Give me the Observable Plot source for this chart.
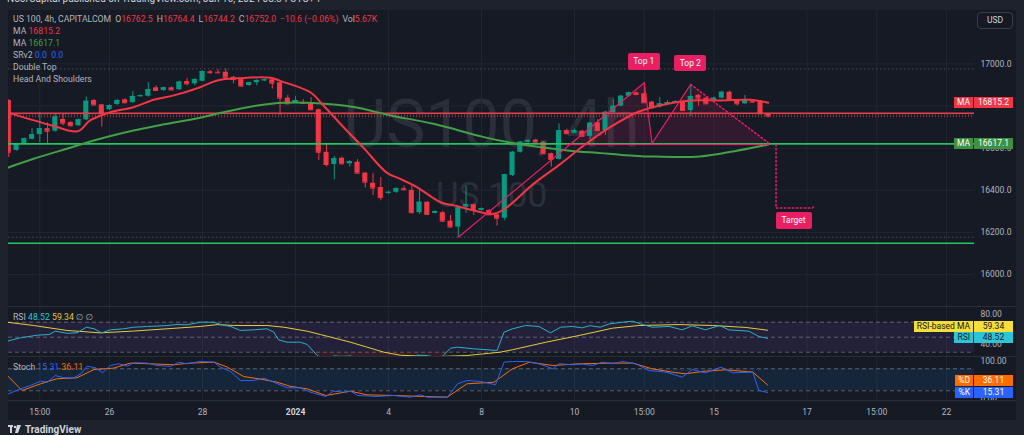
<!DOCTYPE html>
<html><head><meta charset="utf-8">
<script src="https://cdn.jsdelivr.net/npm/d3@7"></script>
<script src="https://cdn.jsdelivr.net/npm/@observablehq/plot@0.6"></script>
<style>
html,body{margin:0;padding:0;}
body{background:#1e222d;width:1024px;height:435px;overflow:hidden;position:relative;font-family:Roboto,"DejaVu Sans",sans-serif;color:#b2b5be;}
#pane{position:absolute;left:8px;top:10px;width:1008px;height:410px;background:#161a25;overflow:hidden;}
#pane svg{position:absolute;left:0;}
.sep{position:absolute;left:0;width:1008px;height:1px;background:#2a2e39;}
.lg{position:absolute;left:13px;font-size:8.7px;line-height:11.9px;white-space:nowrap;color:#b2b5be;}
.lg .g{margin-left:4px;}
.tag{position:absolute;display:flex;height:11px;font-size:8.5px;line-height:11px;right:11px;white-space:nowrap;}
.tag .n{padding:0 3px;margin-right:1px;}
.tag .v{width:39px;text-align:center;}
.pat{position:absolute;background:#e91e63;color:#fff;font-size:8.5px;text-align:center;border-radius:2px;}
</style></head>
<body>
<div id="pub" style="position:absolute;left:7px;top:-7px;font-size:10px;line-height:12px;color:#d1d4dc;white-space:nowrap">NoorCapital published on TradingView.com, Jan 16, 2024 08:34 UTC+4</div>
<div id="pane"></div>
<div class="lg" id="lgPrice" style="top:14px"></div>
<div class="lg" id="lgRsi" style="top:311.8px"></div>
<div class="lg" id="lgStoch" style="top:361.8px"></div>
<div style="position:absolute;left:977px;top:12px;width:34px;height:15px;border:1px solid #3a3e49;border-radius:4px;font-size:8.5px;line-height:15px;text-align:center;color:#d1d4dc">USD</div>
<div style="position:absolute;left:8px;top:424px;font-size:10px;font-weight:bold;color:#d1d4dc;white-space:nowrap;display:flex;align-items:center;gap:3px">
<svg width="14" height="9" viewBox="0 0 14 9"><rect x="0" y="0" width="5" height="2" fill="#d1d4dc"/><rect x="2" y="0" width="2" height="8" fill="#d1d4dc"/><circle cx="7" cy="2" r="1.3" fill="#d1d4dc"/><path d="M9 0 L13 0 L10 8 L7 8 Z" fill="#d1d4dc"/></svg>TradingView</div>
<script>
// ---------- data ----------
const firstBar = -4;
const open  = [16826,16589,16619,16642,16664,16692,16680,16736,16721,16706,16734,16826,16805,16782,16807,16829,16816,16845,16846,16886,16873,16886,16877,16916,16905,16917,16962,16960,16960,16936,16925,16897,16910,16919,16924,16910,16837,16815,16816,16815,16782,16580,16522,16552,16525,16533,16481,16433,16413,16387,16390,16407,16399,16293,16343,16290,16293,16253,16225,16320,16331,16304,16304,16283,16267,16470,16580,16627,16638,16628,16573,16546,16683,16670,16680,16656,16720,16683,16768,16799,16846,16862,16858,16818,16794,16808,16815,16818,16778,16850,16837,16821,16837,16865,16826,16810,16822,16821,16762.5];
const high  = [16830,16622,16648,16692,16770,16720,16760,16760,16725,16738,16842,16830,16808,16806,16830,16835,16868,16852,16910,16895,16890,16890,16918,16930,16930,16966,16968,16972,16976,16940,16928,16913,16924,16927,16927,16912,16850,16845,16830,16840,16785,16620,16560,16556,16540,16545,16484,16478,16460,16395,16412,16420,16420,16405,16346,16302,16300,16280,16320,16420,16335,16316,16308,16286,16476,16584,16632,16640,16642,16631,16576,16715,16690,16690,16684,16722,16735,16775,16832,16850,16866,16866,16910,16822,16840,16825,16826,16822,16902,16855,16842,16842,16870,16870,16830,16850,16826,16826,16764.4];
const low   = [16555,16585,16615,16638,16625,16620,16676,16705,16700,16703,16730,16800,16700,16778,16803,16810,16812,16842,16842,16870,16870,16872,16874,16895,16895,16915,16950,16955,16933,16905,16890,16893,16895,16916,16880,16755,16806,16812,16808,16778,16541,16510,16449,16520,16510,16478,16410,16375,16350,16380,16385,16398,16288,16285,16280,16287,16250,16222,16177,16290,16280,16300,16280,16230,16255,16465,16576,16624,16625,16570,16510,16543,16665,16667,16652,16640,16680,16660,16765,16795,16843,16850,16812,16786,16790,16804,16812,16774,16750,16800,16806,16815,16833,16822,16800,16806,16814,16758,16744.2];
const close = [16580,16619,16644,16664,16692,16680,16747,16718,16706,16734,16822,16805,16763,16802,16826,16815,16845,16848,16878,16873,16886,16876,16913,16905,16925,16963,16958,16957,16936,16925,16894,16910,16921,16924,16908,16837,16810,16826,16812,16782,16580,16522,16549,16525,16536,16481,16438,16410,16365,16390,16407,16402,16293,16343,16285,16299,16253,16225,16316,16331,16304,16312,16283,16267,16473,16580,16628,16636,16628,16573,16546,16683,16668,16683,16656,16718,16683,16770,16799,16846,16862,16854,16815,16791,16810,16815,16820,16778,16845,16837,16810,16837,16865,16826,16810,16826,16818,16763,16752.0];
const legendExtra = ["\u221210.6 (\u22120.06%)", "5.67K"];

// moving averages: [bar index, value]
const maFast = [[-4,16767],[1.6,16707],[4.9,16680],[6.5,16731],[9.1,16770],[12.1,16794],[14.7,16829],[17.3,16850],[20.7,16889],[22.9,16921],[25.9,16932],[29.8,16934],[31.1,16918],[34.9,16865],[36.6,16802],[39.2,16699],[41.8,16600],[44.8,16482],[46.5,16454],[48.7,16414],[51.7,16343],[53.9,16324],[56,16304],[58.6,16288],[60.3,16320],[63.7,16430],[67.2,16525],[70.2,16612],[73.6,16699],[77.1,16770],[78.8,16791],[81.4,16813],[84,16826],[87.8,16826],[91.7,16829],[94,16815.2]];
const maSlow = [[-4.2,16506],[-0.8,16549],[3.5,16597],[7.8,16644],[12.1,16683],[15.6,16710],[20.7,16744],[23.7,16770],[28.1,16802],[31.5,16815],[35.8,16813],[40.5,16795],[45.3,16755],[50.8,16715],[57.3,16652],[61.6,16620],[68.1,16589],[72.4,16576],[74.9,16568],[78.8,16560],[85.2,16560],[89.6,16585],[94,16617.1]];

// support / resistance levels
const srRed = [16765];
const srGreen = [16620, 16148];
const rangeLevels = [16976, 16177];

// double-top pattern
const neckline = 16617;
const patternZig = [[54,16177],[78,16910],[79,16623],[84,16902]];
const patternBreak = [[84,16902],[94.3,16617]];
const necklinePts = [[68,16617],[94.3,16617]];
const targetPts = [[95,16617],[95,16315],[99.7,16315],[100,16328]];
const patternFill = [[68.3,16617],[78,16910],[79,16623],[84,16902],[94.3,16617]];
const patternLabels = ["Top 1","Top 2","Target"];

// RSI
const rsi = [[-4.2,44.7],[-2.5,49.2],[-0.3,52.7],[1.2,53.6],[2,58],[3.5,55.3],[4.8,55.8],[6,63.3],[7,61.2],[8,55.8],[9.1,59.8],[10.8,61.2],[12.1,63.3],[13.9,64.3],[15.1,64.8],[16.4,65.5],[17.7,66.9],[19,66.5],[20.7,70],[22.5,70],[23.3,67],[24.6,64.3],[25.9,59],[27.6,59.8],[29.3,61.2],[30.2,56.7],[30.8,46.5],[31.9,43.3],[33.6,43.3],[34.5,40.3],[35.8,25.6],[36.9,20],[37.9,25],[38.9,24.5],[40.1,25],[42,20],[45.3,18],[47.8,22],[48.7,26],[50,25.5],[51.7,22],[53,35.3],[53.9,36.7],[56,34.5],[59,32.3],[59.9,56.7],[61,61.2],[62.7,65.6],[64.4,64.3],[65.9,55.8],[67.2,63.3],[68.7,64.3],[70,62.5],[71,65.4],[72.3,63.3],[73.5,67.8],[75.2,70],[76.5,71.4],[77.5,67.8],[79,63.3],[81.2,64.3],[82.9,59.8],[84.2,65.1],[85.9,59.8],[87.7,65.6],[88.9,59.8],[91.5,58],[92.8,50.9],[93.9,48.52]];
const rsiMa = [[-4.2,70],[-0.8,65.6],[3.5,59],[7.8,55.8],[12.1,58.2],[16.4,61.2],[20.7,64.3],[22.9,66.8],[25,65.6],[29.3,65.6],[31.5,63.3],[34.5,58],[36.2,53.6],[40.1,43.3],[44.4,30],[46.5,26],[50.8,24],[55.1,25.6],[59.4,30],[61,33.3],[65.3,43.3],[69.6,52.3],[73.9,62],[77.3,65.6],[82.5,66.8],[86.8,65.6],[91.1,63],[93.9,59.34]];
const rsiLevels = [70, 50, 30];
const rsiBand = [30, 70];
const rsiTicks = [40, 80];

// Stochastic
const stochK = [[-4.2,10],[-2.5,25.4],[-1.2,34.5],[0.1,46.2],[1,43.5],[2,61.7],[3.1,55.5],[4.4,55.5],[5.3,66.4],[6.1,87.2],[7.2,82.7],[8.1,69],[9.1,89],[10.2,93.6],[11.3,87.2],[12.1,96.4],[13.9,95.5],[15.1,89],[16.9,86.3],[17.9,98],[19,93.6],[20.7,99.9],[22.5,98],[23.3,84.5],[24.6,72.6],[25.9,48],[27.6,48],[28.9,54.4],[30.2,43.5],[31.9,28.2],[33.6,28.2],[34.9,16.3],[36.9,4.5],[37.9,19],[39.2,16.3],[40.1,19],[41,7.2],[43.5,4.5],[45.7,7.2],[47.8,2.6],[49.1,9],[50,2.6],[52.6,2.6],[53.9,39],[55.1,48],[56.9,45.3],[58.8,36.4],[59.9,98],[61,99.9],[62.7,99.9],[64.4,93.6],[66.2,80],[67,93.6],[68.7,91],[70,93],[71.3,89],[72.6,98],[73.9,93.6],[75.2,99.9],[76.9,93.6],[78.6,75.4],[80.8,70.9],[82.9,57.2],[84.2,78.1],[85.9,69],[87.9,84.5],[89.4,69],[92,70.9],[92.8,20.8],[93.9,15.31]];
const stochD = [[-4.2,61.7],[-2.3,20.8],[0.1,39],[2.2,52.7],[4.8,55.5],[7,78],[9.5,81.8],[11.7,95.5],[14.3,93.6],[17.3,91],[19.4,95.5],[22.5,98],[24.2,84.5],[26.3,59],[28.5,51.8],[30.6,43.5],[32.4,31.8],[34.5,25.4],[36.9,7.2],[40.1,19],[42.2,9],[45.7,7.2],[48.7,5],[52.6,2.6],[55.1,39],[58.6,43.5],[61,80],[63.2,98],[66.2,89],[69.6,93.6],[73.9,95.5],[76.5,95.5],[79,80],[81.6,70.9],[83.3,66.4],[85.9,73.6],[88.5,77.2],[92,70.9],[93.9,36.11]];
const stochLevels = [80, 20];
const stochBand = [20, 80];
const stochTicks = [0, 100];

// axes
const priceGrid = [16000, 16200, 16400, 16600, 16800, 17000];
const priceAxisTicks = [16000, 16200, 16400, 16600, 17000]; // 16800.0 sits hidden behind the MA tag
const tickIdx = [0, 9, 21, 33, 45, 57, 69, 78, 87, 99, 108, 117];
const tickLabels = ["15:00","26","28","2024","4","8","10","15:00","15","17","15:00","22"];
const watermark = ["US100, 4h", "US 100"];

// ---------- drawing ----------
const G = "#089981", R = "#f23645", PINK = "#e91e63", GRID = "#222631";
const bars = open.map((o, k) => ({i: firstBar + k, o, h: high[k], l: low[k], c: close[k]}));
const col = d => d.c >= d.o ? G : R;
const pts = a => a.map(([i, v]) => ({i, v}));
const tickLabel = new Map(tickIdx.map((t, k) => [t, tickLabels[k]]));
const xDomain = [-4.04, 120.61];
const W = 1008, MR = 42;
const common = {
  width: W, marginLeft: 0, marginRight: MR, marginTop: 0,
  color: {type: "identity"},
  style: {background: "transparent", fontFamily: "Roboto, sans-serif", fontSize: "8.5px", color: "#b2b5be", overflow: "visible"}
};
const dotted = {stroke: PINK, strokeWidth: 1.5, strokeDasharray: "1.5,2.5"};

const pricePlot = Plot.plot({
  ...common, height: 296, marginBottom: 0,
  x: {domain: xDomain, axis: null},
  y: {domain: [15848, 17253], axis: "right", ticks: priceAxisTicks, tickFormat: d => d.toFixed(1), tickSize: 0, tickPadding: 6, label: null},
  marks: [
    Plot.text([watermark[0]], {frameAnchor: "middle", dy: -33, fontSize: 66, fill: "#2b2f3a"}),
    Plot.text([watermark[1]], {frameAnchor: "middle", dy: 37, fontSize: 35, fill: "#2b2f3a"}),
    Plot.ruleY(priceGrid, {stroke: GRID}),
    Plot.ruleX(tickIdx, {stroke: GRID}),
    Plot.ruleY(rangeLevels, {stroke: "#4a4e59", strokeDasharray: "1.5,2.5"}),
    Plot.areaY(pts(patternFill), {x: "i", y1: neckline, y2: "v", fill: PINK, fillOpacity: 0.13}),
    Plot.ruleX(bars, {x: "i", y1: "l", y2: "h", stroke: col, clip: true}),
    Plot.rect(bars, {x1: d => d.i - 0.33, x2: d => d.i + 0.33, y1: "o", y2: "c", fill: col, clip: true}),
    Plot.ruleY(bars, {y: "c", x1: d => d.i - 0.33, x2: d => d.i + 0.33, stroke: col, clip: true}),
    Plot.ruleY(srRed, {stroke: "#e0434f", strokeWidth: 1.5}),
    Plot.ruleY(srRed, {stroke: "#e0434f", strokeWidth: 3, strokeDasharray: "1,2", dy: 2.5, strokeOpacity: 0.55}),
    Plot.ruleY(srGreen, {stroke: "#22c55e", strokeWidth: 1.6}),
    Plot.line(pts(maSlow), {x: "i", y: "v", stroke: "#43a047", strokeWidth: 2, curve: "catmull-rom", clip: true}),
    Plot.line(pts(maFast), {x: "i", y: "v", stroke: R, strokeWidth: 2, curve: "catmull-rom", clip: true}),
    Plot.line(pts(patternZig), {x: "i", y: "v", stroke: PINK, strokeWidth: 1.2}),
    Plot.line(pts(patternBreak), {x: "i", y: "v", ...dotted}),
    Plot.line(pts(necklinePts), {x: "i", y: "v", ...dotted}),
    Plot.line(pts(targetPts), {x: "i", y: "v", ...dotted})
  ]
});

const rsiPlot = Plot.plot({
  ...common, height: 50, marginBottom: 0,
  x: {domain: xDomain, axis: null},
  y: {domain: [24.27, 90.93], axis: "right", ticks: rsiTicks, tickFormat: d => d.toFixed(2), tickSize: 0, tickPadding: 6, label: null},
  marks: [
    Plot.ruleX(tickIdx, {stroke: GRID}),
    Plot.rect([rsiBand], {x1: xDomain[0], x2: xDomain[1], y1: d => d[0], y2: d => d[1], fill: "#7e57c2", fillOpacity: 0.13}),
    Plot.ruleY(rsiLevels, {stroke: "#787b86", strokeDasharray: "4,3", strokeOpacity: 0.7}),
    Plot.areaY(pts(rsi), {x: "i", y1: rsiBand[0], y2: d => Math.min(d.v, rsiBand[0]), fill: R, fillOpacity: 0.13, clip: true}),
    Plot.line(pts(rsiMa), {x: "i", y: "v", stroke: "#e5cc3a", strokeWidth: 1, clip: true}),
    Plot.line(pts(rsi), {x: "i", y: "v", stroke: "#26b3c6", strokeWidth: 1, clip: true})
  ]
});

const stochPlot = Plot.plot({
  ...common, height: 64, marginBottom: 20,
  x: {domain: xDomain, axis: "bottom", ticks: tickIdx, tickFormat: d => tickLabel.get(d), tickSize: 0, tickPadding: 8, label: null},
  y: {domain: [-6.45, 113.5], axis: "right", ticks: stochTicks, tickFormat: d => d.toFixed(2), tickSize: 0, tickPadding: 6, label: null},
  marks: [
    Plot.ruleX(tickIdx, {stroke: GRID}),
    Plot.rect([stochBand], {x1: xDomain[0], x2: xDomain[1], y1: d => d[0], y2: d => d[1], fill: "#2196f3", fillOpacity: 0.1}),
    Plot.ruleY(stochLevels, {stroke: "#787b86", strokeDasharray: "4,3", strokeOpacity: 0.7}),
    Plot.line(pts(stochD), {x: "i", y: "v", stroke: "#ff6d00", strokeWidth: 1, clip: true}),
    Plot.line(pts(stochK), {x: "i", y: "v", stroke: "#2962ff", strokeWidth: 1, clip: true})
  ]
});
d3.select(stochPlot).selectAll("text").filter(function () { return this.textContent === "2024"; })
  .attr("font-weight", "bold").attr("fill", "#d1d4dc");

const pane = document.getElementById("pane");
const place = (el, top) => { el.style.top = top + "px"; pane.appendChild(el); };
place(pricePlot, 0);
place(rsiPlot, 296);
place(stochPlot, 346);
[296, 346, 390].forEach(t => { const s = document.createElement("div"); s.className = "sep"; s.style.top = t + "px"; pane.appendChild(s); });

// ---------- overlays ----------
const PX = 8, PY = 10;
const sx = pricePlot.scale("x"), sy = pricePlot.scale("y");
const ry = rsiPlot.scale("y"), ky = stochPlot.scale("y");

function addTag(center, name, value, bg, fg) {
  const d = document.createElement("div");
  d.className = "tag";
  d.style.top = (center - 5.5) + "px";
  d.innerHTML = `<span class="n" style="background:${bg};color:${fg}">${name}</span><span class="v" style="background:${bg};color:${fg}">${value}</span>`;
  document.body.appendChild(d);
}
const maFastLast = maFast[maFast.length - 1][1], maSlowLast = maSlow[maSlow.length - 1][1];
addTag(PY + sy.apply(maFastLast), "MA", maFastLast.toFixed(1), R, "#fff");
addTag(PY + sy.apply(maSlowLast), "MA", maSlowLast.toFixed(1), "#3d9140", "#fff");

function pair(topPlot, a, b) {
  let ca = topPlot(a), cb = topPlot(b);
  if (Math.abs(ca - cb) < 11.7) { if (ca < cb) ca = cb - 11.7; else cb = ca - 11.7; }
  return [ca, cb];
}
const rsiLast = rsi[rsi.length - 1][1], rsiMaLast = rsiMa[rsiMa.length - 1][1];
const [cMa, cRsi] = pair(v => PY + 296 + ry.apply(v), rsiMaLast, rsiLast);
addTag(cMa, "RSI-based MA", rsiMaLast.toFixed(2), "#f5dd3a", "#131722");
addTag(cRsi, "RSI", rsiLast.toFixed(2), "#2cc4d6", "#131722");
const kLast = stochK[stochK.length - 1][1], dLast = stochD[stochD.length - 1][1];
const [cD, cK] = pair(v => PY + 346 + ky.apply(v), dLast, kLast);
addTag(cD, "%D", dLast.toFixed(2), "#ff6d00", "#fff");
addTag(cK, "%K", kLast.toFixed(2), "#2962ff", "#fff");

function patLabel(text, left, top, w, h) {
  const d = document.createElement("div");
  d.className = "pat";
  Object.assign(d.style, {left: left + "px", top: top + "px", width: w + "px", height: h + "px", lineHeight: h + "px"});
  d.textContent = text;
  document.body.appendChild(d);
}
patLabel(patternLabels[0], PX + sx.apply(patternZig[1][0]) - 16, PY + sy.apply(patternZig[1][1]) - 21 - 8.3, 32, 16.6);
patLabel(patternLabels[1], PX + sx.apply(patternZig[3][0]) - 16, PY + sy.apply(patternZig[3][1]) - 21 - 8.3, 32, 16.6);
patLabel(patternLabels[2], PX + sx.apply(targetPts[1][0]), PY + sy.apply(targetPts[1][1]) + 4, 36, 17);

// legends
const k = open.length - 1;
const rs = v => `<span style="color:${R}">${v}</span>`;
document.getElementById("lgPrice").innerHTML =
  `<div>US 100, 4h, CAPITALCOM<span class="g">O${rs(open[k].toFixed(1))}</span><span class="g">H${rs(high[k].toFixed(1))}</span><span class="g">L${rs(low[k].toFixed(1))}</span><span class="g">C${rs(close[k].toFixed(1))}</span><span class="g">${rs(legendExtra[0])}</span><span class="g">Vol${rs(legendExtra[1])}</span></div>` +
  `<div>MA <span style="color:${R}">${maFastLast.toFixed(1)}</span></div>` +
  `<div>MA <span style="color:#43a047">${maSlowLast.toFixed(1)}</span></div>` +
  `<div>SRv2 <span style="color:#2962ff">0.0&nbsp; 0.0</span></div>` +
  `<div>Double Top</div><div>Head And Shoulders</div>`;
document.getElementById("lgRsi").innerHTML =
  `RSI <span style="color:#26c6da">${rsiLast.toFixed(2)}</span> <span style="color:#e5cc3a">${rsiMaLast.toFixed(2)}</span> &#8709; &#8709;`;
document.getElementById("lgStoch").innerHTML =
  `Stoch <span style="color:#2962ff">${kLast.toFixed(2)}</span> <span style="color:#ff6d00">${dLast.toFixed(2)}</span>`;
</script>
</body></html>
